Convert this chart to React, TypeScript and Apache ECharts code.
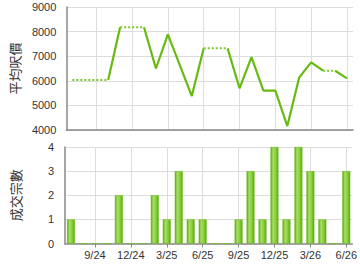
import React, { useEffect, useRef } from 'react';
import * as echarts from 'echarts';

const months = ['7/24', '8/24', '9/24', '10/24', '11/24', '12/24', '1/25', '2/25', '3/25', '4/25', '5/25', '6/25', '7/25', '8/25', '9/25', '10/25', '11/25', '12/25', '1/26', '2/26', '3/26', '4/26', '5/26', '6/26'];
const avgPrice = [6030, 6030, 6030, 6030, 8175, 8175, 8175, 6500, 7890, 6635, 5380, 7320, 7320, 7320, 5695, 6965, 5600, 5600, 4160, 6140, 6750, 6410, 6410, 6100];
const deals = [1, 0, 0, 0, 2, 0, 0, 2, 1, 3, 1, 1, 0, 0, 1, 3, 1, 4, 1, 4, 3, 1, 0, 3];
const labelMonths = ['9/24', '12/24', '3/25', '6/25', '9/25', '12/25', '3/26', '6/26'];

const showAt = (index: number) => labelMonths.indexOf(months[index]) >= 0;

function buildLineSeries() {
  const series: any[] = [];
  const n = avgPrice.length;
  let start = 0;
  let dotted = deals[1] === 0;
  const push = (s: number, e: number, d: boolean) => {
    series.push({
      type: 'line',
      xAxisIndex: 0,
      yAxisIndex: 0,
      data: avgPrice.map((v, k) => (k >= s && k <= e ? v : null)),
      showSymbol: false,
      connectNulls: false,
      lineStyle: d
        ? { color: '#77cc22', width: 2, type: [2, 2] }
        : { color: '#66bb11', width: 2.2 },
      z: 3,
    });
  };
  for (let i = 1; i < n - 1; i++) {
    const d = deals[i + 1] === 0;
    if (d !== dotted) {
      push(start, i, dotted);
      start = i;
      dotted = d;
    }
  }
  push(start, n - 1, dotted);
  return series;
}

export default function App() {
  const ref = useRef<HTMLDivElement>(null);
  useEffect(() => {
    if (!ref.current) return;
    const chart = echarts.init(ref.current, null, { renderer: 'svg' });
    const font = "'Liberation Sans', Arial, sans-serif";
    const cjk = "'Noto Sans CJK TC', 'Noto Sans CJK SC', sans-serif";
    const gridColor = '#dddddd';
    const axisColor = '#888888';
    const barColor = new echarts.graphic.LinearGradient(0, 0, 1, 0, [
      { offset: 0, color: '#5aa80f' },
      { offset: 0.3, color: '#a8de66' },
      { offset: 0.65, color: '#8bcf3c' },
      { offset: 1, color: '#5aa80f' },
    ]);
    const xCommon = {
      type: 'category',
      data: months,
      boundaryGap: true,
      axisLine: { show: true, lineStyle: { color: axisColor, width: 1.5 } },
      splitLine: {
        show: true,
        alignWithLabel: true,
        interval: (i: number) => showAt(i),
        lineStyle: { color: gridColor, width: 1 },
      },
    };
    chart.setOption({
      animation: false,
      grid: [
        { left: 65, right: 7, top: 7, height: 123 },
        { left: 65, right: 7, top: 147, height: 96.5 },
      ],
      xAxis: [
        {
          ...xCommon,
          gridIndex: 0,
          axisTick: { show: false },
          axisLabel: { show: false },
        },
        {
          ...xCommon,
          gridIndex: 1,
          axisTick: {
            show: true,
            alignWithLabel: true,
            interval: (i: number) => showAt(i),
            length: 4,
            lineStyle: { color: axisColor },
          },
          axisLabel: {
            show: true,
            interval: (i: number) => showAt(i),
            margin: 6,
            fontSize: 11,
            color: '#333',
            fontFamily: font,
          },
        },
      ],
      yAxis: [
        {
          type: 'value',
          gridIndex: 0,
          min: 4000,
          max: 9000,
          interval: 1000,
          name: '平均呎價',
          nameLocation: 'middle',
          nameRotate: 90,
          nameGap: 43,
          nameTextStyle: { fontSize: 13, color: '#333', fontFamily: cjk },
          axisLine: { show: true, lineStyle: { color: axisColor, width: 1.5 } },
          axisTick: { show: false },
          axisLabel: {
            fontSize: 11,
            color: '#333',
            margin: 10,
            fontFamily: font,
            formatter: (v: number) => String(v),
          },
          splitLine: { show: true, lineStyle: { color: gridColor } },
        },
        {
          type: 'value',
          gridIndex: 1,
          min: 0,
          max: 4,
          interval: 1,
          name: '成交宗數',
          nameLocation: 'middle',
          nameRotate: 90,
          nameGap: 43,
          nameTextStyle: { fontSize: 13, color: '#333', fontFamily: cjk },
          axisLine: { show: true, lineStyle: { color: axisColor, width: 1.5 } },
          axisTick: { show: false },
          axisLabel: {
            fontSize: 11,
            color: '#333',
            margin: 11,
            fontFamily: font,
            formatter: (v: number) => String(v),
          },
          splitLine: { show: true, lineStyle: { color: gridColor } },
        },
      ],
      series: [
        ...buildLineSeries(),
        {
          type: 'bar',
          xAxisIndex: 1,
          yAxisIndex: 1,
          data: deals,
          barWidth: 8,
          itemStyle: { color: barColor, borderColor: '#6cbf1c', borderWidth: 0.6 },
          z: 3,
        },
      ],
    });
    return () => chart.dispose();
  }, []);
  return (
    <div
      ref={ref}
      style={{ position: 'fixed', left: 0, top: 0, width: 360, height: 270, background: '#fff' }}
    />
  );
}
